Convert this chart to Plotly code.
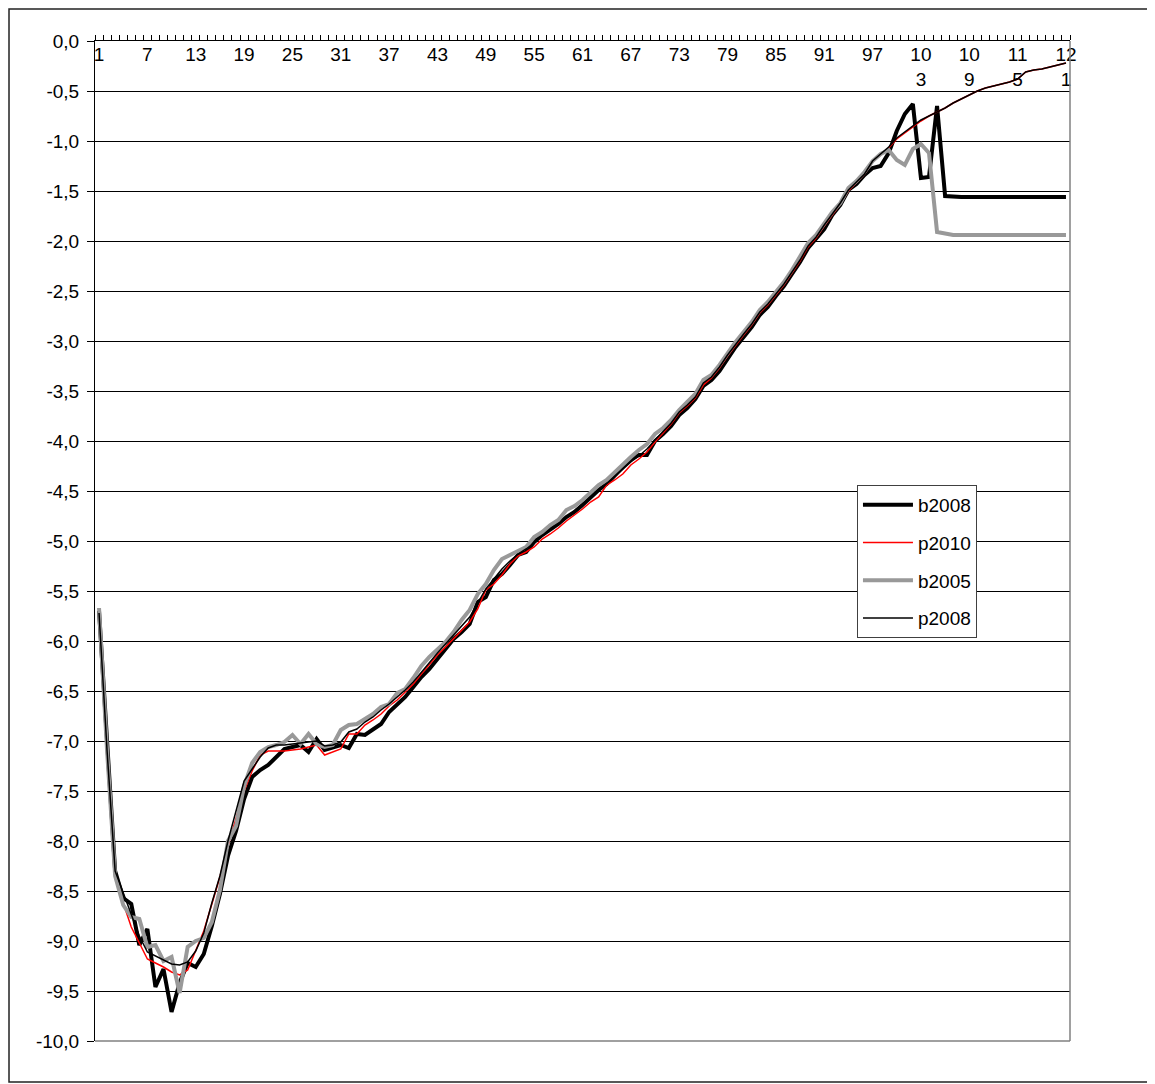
import plotly.graph_objects as go

# categories 1..121
CATEGORIES = list(range(1, 122))

B2008 = [
    -5.70, -7.05, -8.30, -8.57, -8.63, -9.04, -8.88, -9.46, -9.28, -9.71,
    -9.42, -9.22, -9.26, -9.13, -8.85, -8.53, -8.15, -7.90, -7.58, -7.36,
    -7.29, -7.24, -7.16, -7.08, -7.06, -7.04, -7.11, -6.98, -7.09, -7.06,
    -7.04, -7.07, -6.93, -6.94, -6.89, -6.83, -6.71, -6.63, -6.56, -6.46,
    -6.36, -6.28, -6.18, -6.08, -5.98, -5.91, -5.83, -5.61, -5.56, -5.39,
    -5.33, -5.24, -5.14, -5.11, -5.01, -4.94, -4.89, -4.83, -4.76, -4.71,
    -4.64, -4.56, -4.49, -4.43, -4.34, -4.26, -4.18, -4.14, -4.14, -4.00,
    -3.93, -3.85, -3.74, -3.67, -3.58, -3.45, -3.39, -3.30, -3.18, -3.06,
    -2.96, -2.86, -2.74, -2.66, -2.55, -2.45, -2.33, -2.21, -2.07, -1.98,
    -1.88, -1.74, -1.64, -1.49, -1.43, -1.34, -1.27, -1.25, -1.12, -0.90,
    -0.73, -0.63, -1.37, -1.36, -0.65, -1.55, -1.56, -1.56, -1.56, -1.56,
    -1.56, -1.56, -1.56, -1.56, -1.56, -1.56, -1.56, -1.56, -1.56, -1.56,
    -1.56,
]

P2010 = [
    -5.70, -7.10, -8.37, -8.62, -8.86, -9.02, -9.18, -9.22, -9.26, -9.31,
    -9.34, -9.29, -9.10, -8.90, -8.63, -8.36, -8.05, -7.78, -7.50, -7.30,
    -7.14, -7.10, -7.10, -7.10, -7.09, -7.08, -7.06, -7.04, -7.14, -7.11,
    -7.08, -6.93, -6.93, -6.84, -6.79, -6.73, -6.65, -6.59, -6.51, -6.43,
    -6.33, -6.23, -6.14, -6.06, -5.98, -5.89, -5.81, -5.68, -5.49, -5.43,
    -5.34, -5.23, -5.15, -5.11, -5.06, -4.98, -4.93, -4.87, -4.80, -4.74,
    -4.68, -4.61, -4.56, -4.44, -4.39, -4.33, -4.24, -4.18, -4.11, -4.01,
    -3.92, -3.83, -3.72, -3.65, -3.57, -3.44, -3.37, -3.27, -3.15, -3.04,
    -2.94, -2.84, -2.72, -2.64, -2.54, -2.44, -2.32, -2.20, -2.06, -1.97,
    -1.85, -1.74, -1.63, -1.50, -1.42, -1.33, -1.21, -1.14, -1.07, -0.98,
    -0.92, -0.86, -0.80, -0.75, -0.71, -0.67, -0.62, -0.58, -0.54, -0.50,
    -0.47, -0.45, -0.43, -0.41, -0.38, -0.31, -0.29, -0.28, -0.26, -0.24,
    -0.22,
]

B2005 = [
    -5.67, -7.10, -8.35, -8.64, -8.76, -8.78, -9.06, -9.04, -9.20, -9.16,
    -9.52, -9.06, -9.00, -8.97, -8.81, -8.49, -8.00, -7.85, -7.45, -7.22,
    -7.11, -7.06, -7.04, -7.01, -6.94, -7.03, -6.93, -7.03, -7.06, -7.04,
    -6.89, -6.84, -6.83, -6.78, -6.73, -6.66, -6.63, -6.52, -6.48, -6.37,
    -6.25, -6.16, -6.08, -6.01, -5.91, -5.79, -5.69, -5.53, -5.43, -5.29,
    -5.18, -5.14, -5.11, -5.06, -4.96, -4.91, -4.84, -4.79, -4.69, -4.65,
    -4.59, -4.51, -4.44, -4.39, -4.31, -4.23, -4.16, -4.09, -4.03, -3.93,
    -3.87, -3.79, -3.69, -3.61, -3.53, -3.39, -3.34, -3.24, -3.12, -3.01,
    -2.91, -2.81, -2.69, -2.61, -2.51, -2.41, -2.29, -2.16, -2.02, -1.94,
    -1.83, -1.71, -1.62, -1.47, -1.40, -1.31, -1.20, -1.13, -1.09, -1.19,
    -1.24, -1.08, -1.03, -1.12, -1.91, -1.93, -1.94, -1.94, -1.94, -1.94,
    -1.94, -1.94, -1.94, -1.94, -1.94, -1.94, -1.94, -1.94, -1.94, -1.94,
    -1.94,
]

P2008 = [
    -5.72, -7.10, -8.30, -8.52, -8.72, -8.95, -9.11, -9.15, -9.19, -9.23,
    -9.24, -9.21, -9.10, -8.92, -8.62, -8.35, -8.00, -7.70, -7.40, -7.28,
    -7.16, -7.07, -7.04, -7.04, -7.03, -7.02, -7.01, -7.00, -7.05, -7.04,
    -7.01, -6.91, -6.88, -6.81, -6.76, -6.69, -6.63, -6.56, -6.49, -6.41,
    -6.31, -6.21, -6.12, -6.03, -5.94, -5.85, -5.76, -5.62, -5.48, -5.38,
    -5.28, -5.20, -5.13, -5.08, -5.02, -4.95, -4.89, -4.83, -4.76, -4.70,
    -4.63, -4.56, -4.50, -4.43, -4.36, -4.29, -4.21, -4.15, -4.08, -3.99,
    -3.91, -3.82, -3.71, -3.64, -3.56, -3.42, -3.36, -3.26, -3.14, -3.03,
    -2.93, -2.83, -2.71, -2.63, -2.53, -2.43, -2.31, -2.19, -2.05, -1.96,
    -1.84, -1.73, -1.62, -1.49, -1.41, -1.33, -1.20, -1.13, -1.06, -0.97,
    -0.91, -0.85, -0.79, -0.75, -0.71, -0.67, -0.62, -0.58, -0.54, -0.50,
    -0.47, -0.45, -0.43, -0.41, -0.38, -0.31, -0.29, -0.28, -0.26, -0.24,
    -0.22,
]

X_TICKS = [1, 7, 13, 19, 25, 31, 37, 43, 49, 55, 61, 67, 73, 79, 85, 91, 97,
           103, 109, 115, 121]
X_TICK_TEXT = ["1", "7", "13", "19", "25", "31", "37", "43", "49", "55", "61",
               "67", "73", "79", "85", "91", "97",
               "10<br>3", "10<br>9", "11<br>5", "12<br>1"]

Y_TICKS = [0.0, -0.5, -1.0, -1.5, -2.0, -2.5, -3.0, -3.5, -4.0, -4.5, -5.0,
           -5.5, -6.0, -6.5, -7.0, -7.5, -8.0, -8.5, -9.0, -9.5, -10.0]
Y_TICK_TEXT = ["0,0", "-0,5", "-1,0", "-1,5", "-2,0", "-2,5", "-3,0", "-3,5",
               "-4,0", "-4,5", "-5,0", "-5,5", "-6,0", "-6,5", "-7,0", "-7,5",
               "-8,0", "-8,5", "-9,0", "-9,5", "-10,0"]

FONT = "Liberation Sans, Arial, sans-serif"
FS = 19

series = [
    ("b2008", B2008, "#000000", 4, "x"),
    ("p2010", P2010, "#ff0000", 1.5, "x"),
    ("b2005", B2005, "#999999", 4, "x"),
    # last series goes on the overlay axis that carries the category labels
    ("p2008", P2008, "#000000", 1.5, "x2"),
]

fig = go.Figure()
for name, values, color, width, xax in series:
    fig.add_trace(
        go.Scatter(
            x=CATEGORIES,
            y=values,
            xaxis=xax,
            yaxis="y",
            mode="lines",
            name=name,
            legendgroup=name,
            line=dict(color=color, width=width),
            hoverinfo="skip",
        )
    )

# the page adds an 8px body margin, so the figure is 8px smaller each way
fig.update_layout(
    width=1147,
    height=1076,
    paper_bgcolor="white",
    plot_bgcolor="white",
    font=dict(family=FONT, size=FS, color="black"),
    margin=dict(l=87, r=85, t=33, b=43),
    showlegend=True,
    legend=dict(
        x=0.7815,
        y=0.556,
        xanchor="left",
        yanchor="top",
        bgcolor="white",
        bordercolor="#404040",
        borderwidth=1,
        font=dict(size=FS, color="black"),
        tracegroupgap=10,
        itemwidth=50,
    ),
    xaxis=dict(
        range=[0.5, 121.5],
        side="top",
        showline=True,
        linecolor="black",
        linewidth=1,
        showticklabels=False,
        ticks="",
        showgrid=False,
        zeroline=False,
        minor=dict(ticks="outside", tick0=0.5, dtick=1, ticklen=5,
                   tickcolor="black", tickwidth=1, showgrid=False),
    ),
    # category labels sit just under the top axis line, inside the plot
    xaxis2=dict(
        range=[0.5, 121.5],
        overlaying="x",
        anchor="free",
        position=1,
        side="bottom",
        showline=False,
        ticks="",
        tickmode="array",
        tickvals=X_TICKS,
        ticktext=X_TICK_TEXT,
        showgrid=False,
        zeroline=False,
        tickfont=dict(size=FS, color="black"),
    ),
    yaxis=dict(
        range=[-10, 0],
        tickmode="array",
        tickvals=Y_TICKS,
        ticktext=Y_TICK_TEXT,
        ticks="outside",
        ticklen=7,
        tickcolor="black",
        ticklabelstandoff=4,
        showline=True,
        linecolor="black",
        linewidth=1,
        showgrid=True,
        gridcolor="#000000",
        gridwidth=1,
        zeroline=False,
        tickfont=dict(size=FS, color="black"),
    ),
)

# plot area right / bottom border and the outer chart frame
fig.add_shape(type="line", xref="paper", yref="paper", x0=1, x1=1, y0=0, y1=1,
              line=dict(color="#808080", width=1.5))
fig.add_shape(type="line", xref="paper", yref="paper", x0=0, x1=1, y0=0, y1=0,
              line=dict(color="#808080", width=1.5))
fig.add_shape(type="rect", xref="paper", yref="paper",
              x0=-0.0882, x1=1.0851, y0=-0.041, y1=1.032,
              line=dict(color="#222222", width=1.5))

fig.write_html("out.html")
